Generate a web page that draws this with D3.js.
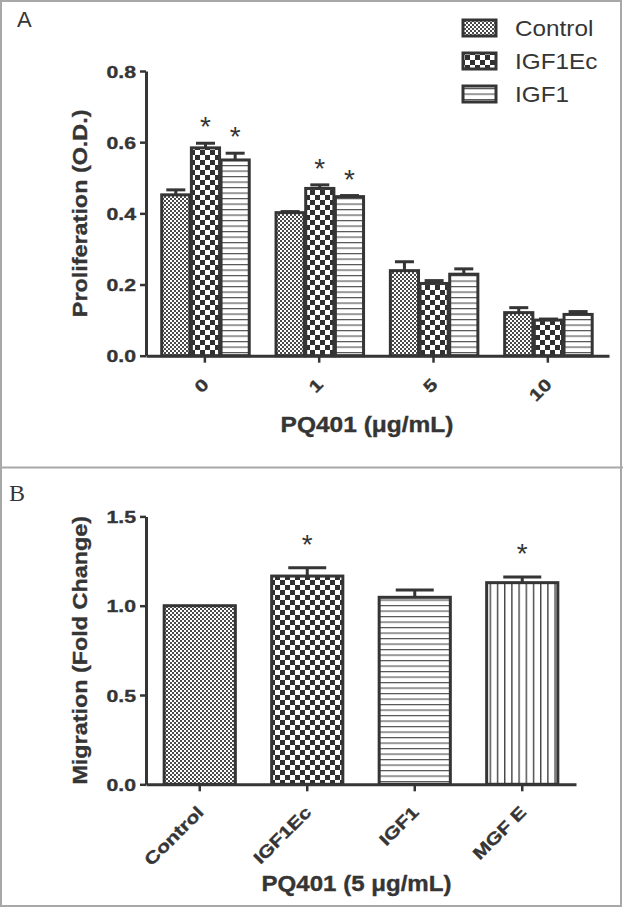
<!DOCTYPE html>
<html><head><meta charset="utf-8">
<script src="https://cdn.jsdelivr.net/npm/d3@7"></script>
<style>body{margin:0;background:#fff}svg{display:block}</style>
</head><body>
<svg id="chart" width="623" height="908"></svg>
<script>
// ---------- DATA ----------
const groupsA = ["0", "1", "5", "10"];
const seriesA = ["Control", "IGF1Ec", "IGF1"];
const controlA = [0.452, 0.402, 0.239, 0.121];
const igf1ecA  = [0.584, 0.470, 0.203, 0.100];
const igf1A    = [0.550, 0.447, 0.229, 0.116];
const controlErrA = [0.014, 0.003, 0.025, 0.014];
const igf1ecErrA  = [0.013, 0.010, 0.008, 0.003];
const igf1ErrA    = [0.019, 0.003, 0.015, 0.008];
const igf1ecStarA = [true, true, false, false];
const igf1StarA   = [true, true, false, false];
const yTicksA = [0, 0.2, 0.4, 0.6, 0.8];

const categoriesB = ["Control", "IGF1Ec", "IGF1", "MGF E"];
const valuesB = [1.0, 1.166, 1.047, 1.129];
const errB    = [0.0, 0.047, 0.041, 0.032];
const starB   = [false, true, false, true];
const yTicksB = [0, 0.5, 1.0, 1.5];

// ---------- STYLE ----------
const INK = "#353535";
const SANS = "'Liberation Sans', Arial, Helvetica, sans-serif";
const svg = d3.select("#chart");
const defs = svg.append("defs");

function pattern(id, w, h, draw) {
  const p = defs.append("pattern").attr("id", id).attr("patternUnits", "userSpaceOnUse")
    .attr("width", w).attr("height", h);
  p.append("rect").attr("width", w).attr("height", h).attr("fill", "#fff");
  draw(p);
}
pattern("pControl", 4, 4, p => {
  p.append("rect").attr("x", 0).attr("y", 0).attr("width", 2).attr("height", 2).attr("fill", "#4a4a4a");
  p.append("rect").attr("x", 2).attr("y", 2).attr("width", 2).attr("height", 2).attr("fill", "#4a4a4a");
});
pattern("pIGF1Ec", 10, 10, p => {
  p.append("rect").attr("x", 0).attr("y", 0).attr("width", 5).attr("height", 5).attr("fill", "#303030");
  p.append("rect").attr("x", 5).attr("y", 5).attr("width", 5).attr("height", 5).attr("fill", "#303030");
});
pattern("pIGF1", 6, 5.5, p => {
  p.append("rect").attr("x", 0).attr("y", 0).attr("width", 6).attr("height", 1.2).attr("fill", "#555");
});
pattern("pMGF", 7.2, 6, p => {
  p.append("rect").attr("x", 0).attr("y", 0).attr("width", 1.4).attr("height", 6).attr("fill", "#444");
});
const fillA = {"Control": "url(#pControl)", "IGF1Ec": "url(#pIGF1Ec)", "IGF1": "url(#pIGF1)"};
const fillB = ["url(#pControl)", "url(#pIGF1Ec)", "url(#pIGF1)", "url(#pMGF)"];

// ---------- FRAME ----------
svg.append("rect").attr("x", 1).attr("y", 1).attr("width", 620).attr("height", 905)
  .attr("fill", "none").attr("stroke", "#a8a8a8").attr("stroke-width", 2);
svg.append("line").attr("x1", 0).attr("x2", 623).attr("y1", 467.5).attr("y2", 467.5)
  .attr("stroke", "#a8a8a8").attr("stroke-width", 2);

svg.append("text").attr("x", 17).attr("y", 27).text("A")
  .attr("font-family", SANS).attr("font-size", 22).attr("fill", INK);
svg.append("text").attr("x", 9).attr("y", 501).text("B")
  .attr("font-family", "'Liberation Serif', 'Times New Roman', serif").attr("font-size", 24).attr("fill", INK);

function styleAxis(g) {
  g.select(".domain").attr("stroke", INK).attr("stroke-width", 3);
  g.selectAll(".tick line").attr("stroke", INK).attr("stroke-width", 2.5);
  g.selectAll(".tick text").attr("fill", INK).attr("font-family", SANS).attr("font-weight", "bold").attr("font-size", 17)
    .attr("stroke", INK).attr("stroke-width", 0.35);
}
function boldText(sel) {
  return sel.attr("font-family", SANS).attr("font-weight", "bold").attr("fill", INK)
    .attr("stroke", INK).attr("stroke-width", 0.35);
}

// ---------- PANEL A ----------
const xA = d3.scaleBand().domain(groupsA).range([146, 609]).paddingInner(0).paddingOuter(0.025).align(0.3);
const xInA = d3.scaleBand().domain(seriesA).range([12.5, xA.bandwidth() - 12.8]).padding(0);
const yA = d3.scaleLinear().domain([0, 0.8]).range([355.7, 71]);

const dataA = [];
groupsA.forEach((g, i) => {
  [[controlA, controlErrA, null], [igf1ecA, igf1ecErrA, igf1ecStarA], [igf1A, igf1ErrA, igf1StarA]]
    .forEach((arr, j) => dataA.push({group: g, series: seriesA[j], v: arr[0][i], e: arr[1][i], star: arr[2] ? arr[2][i] : false}));
});

const STAR_FS = 28;
const gA = svg.append("g");
const barsA = gA.selectAll("g.bar").data(dataA).join("g").attr("class", "bar");
barsA.append("rect")
  .attr("x", d => xA(d.group) + xInA(d.series) + 1.5)
  .attr("y", d => yA(d.v))
  .attr("width", xInA.bandwidth() - 1.5)
  .attr("height", d => yA(0) - yA(d.v))
  .attr("fill", d => fillA[d.series]).attr("stroke", INK).attr("stroke-width", 3);
const capA = 19;
barsA.filter(d => d.e > 0).each(function(d) {
  const cx = xA(d.group) + xInA(d.series) + xInA.bandwidth() / 2 + 0.75;
  const g = d3.select(this);
  g.append("line").attr("x1", cx).attr("x2", cx).attr("y1", yA(d.v)).attr("y2", yA(d.v + d.e))
    .attr("stroke", INK).attr("stroke-width", 3);
  g.append("line").attr("x1", cx - capA / 2).attr("x2", cx + capA / 2).attr("y1", yA(d.v + d.e)).attr("y2", yA(d.v + d.e))
    .attr("stroke", INK).attr("stroke-width", 3);
});
barsA.filter(d => d.star).append("text")
  .attr("x", d => xA(d.group) + xInA(d.series) + xInA.bandwidth() / 2 + 0.75)
  .attr("y", d => yA(d.v + d.e) - 23 + 0.57 * STAR_FS)
  .attr("text-anchor", "middle").attr("font-family", SANS).attr("font-size", STAR_FS).attr("fill", INK).text("*");

const axYA = svg.append("g").attr("transform", "translate(146,0)")
  .call(d3.axisLeft(yA).tickValues(yTicksA).tickFormat(d3.format(".1f")).tickSize(6).tickSizeOuter(0));
styleAxis(axYA);
axYA.selectAll(".tick text").attr("x", -8).attr("dy", "0.36em").attr("transform", "scale(1.25,1)");

const axXA = svg.append("g").attr("transform", "translate(0,355.7)")
  .call(d3.axisBottom(xA).tickSize(7).tickSizeOuter(0));
styleAxis(axXA);
axXA.selectAll(".tick text").attr("x", 0).attr("y", 0).attr("dy", 0).attr("text-anchor", "end")
  .attr("transform", "translate(5,30) rotate(-45) scale(1.25,1)");

boldText(svg.append("text").attr("transform", "translate(367,431.5) scale(1.14,1)").attr("text-anchor", "middle")
  .attr("font-size", 21.5)).text("PQ401 (μg/mL)");
boldText(svg.append("text").attr("transform", `translate(87,${(yA(0) + yA(0.8)) / 2}) rotate(-90) scale(1.14,1)`).attr("text-anchor", "middle")
  .attr("font-size", 20.5)).text("Proliferation (O.D.)");

// legend
const leg = svg.append("g");
seriesA.forEach((s, i) => {
  leg.append("rect").attr("x", 463).attr("y", 20 + i * 33).attr("width", 33).attr("height", 16)
    .attr("fill", fillA[s]).attr("stroke", INK).attr("stroke-width", 3);
  leg.append("text").attr("transform", `translate(515,${36 + i * 33}) scale(1.13,1)`)
    .attr("font-family", SANS).attr("font-size", 21.5).attr("fill", INK).text(s);
});

// ---------- PANEL B ----------
const xB = d3.scaleBand().domain(categoriesB).range([146, 576]).paddingInner(0.31).paddingOuter(0.155);
const yB = d3.scaleLinear().domain([0, 1.5]).range([784.3, 516.4]);
const dataB = categoriesB.map((c, i) => ({c, v: valuesB[i], e: errB[i], star: starB[i], fill: fillB[i]}));

const gB = svg.append("g");
const barsB = gB.selectAll("g.bar").data(dataB).join("g").attr("class", "bar");
barsB.append("rect")
  .attr("x", d => xB(d.c) + 1.5).attr("y", d => yB(d.v))
  .attr("width", xB.bandwidth() - 3).attr("height", d => yB(0) - yB(d.v))
  .attr("fill", d => d.fill).attr("stroke", INK).attr("stroke-width", 3);
const capB = 38;
barsB.filter(d => d.e > 0).each(function(d) {
  const cx = xB(d.c) + xB.bandwidth() / 2;
  const g = d3.select(this);
  g.append("line").attr("x1", cx).attr("x2", cx).attr("y1", yB(d.v)).attr("y2", yB(d.v + d.e))
    .attr("stroke", INK).attr("stroke-width", 3);
  g.append("line").attr("x1", cx - capB / 2).attr("x2", cx + capB / 2).attr("y1", yB(d.v + d.e)).attr("y2", yB(d.v + d.e))
    .attr("stroke", INK).attr("stroke-width", 3);
});
barsB.filter(d => d.star).append("text")
  .attr("x", d => xB(d.c) + xB.bandwidth() / 2)
  .attr("y", d => yB(d.v + d.e) - 30 + 0.57 * STAR_FS)
  .attr("text-anchor", "middle").attr("font-family", SANS).attr("font-size", STAR_FS).attr("fill", INK).text("*");

const axYB = svg.append("g").attr("transform", "translate(146,0)")
  .call(d3.axisLeft(yB).tickValues(yTicksB).tickFormat(d3.format(".1f")).tickSize(6).tickSizeOuter(0));
styleAxis(axYB);
axYB.selectAll(".tick text").attr("x", -8).attr("dy", "0.36em").attr("transform", "scale(1.25,1)");

const axXB = svg.append("g").attr("transform", "translate(0,784.3)")
  .call(d3.axisBottom(xB).tickSize(7).tickSizeOuter(0));
styleAxis(axXB);
axXB.selectAll(".tick text").attr("x", 0).attr("y", 0).attr("dy", 0).attr("text-anchor", "end")
  .attr("transform", "translate(5,29) rotate(-45) scale(1.25,1)");

boldText(svg.append("text").attr("transform", "translate(356.5,890.5) scale(1.12,1)").attr("text-anchor", "middle")
  .attr("font-size", 21.5)).text("PQ401 (5 μg/mL)");
boldText(svg.append("text").attr("transform", `translate(87,${(yB(0) + yB(1.5)) / 2}) rotate(-90) scale(1.14,1)`).attr("text-anchor", "middle")
  .attr("font-size", 20.5)).text("Migration (Fold Change)");
</script>
</body></html>
